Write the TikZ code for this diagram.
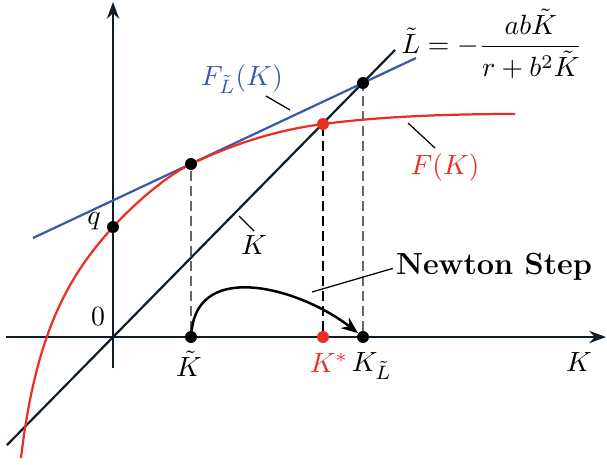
\documentclass[tikz,border=0pt]{standalone}
\usetikzlibrary{arrows.meta}
\definecolor{fred}{RGB}{236,45,35}
\definecolor{fblue}{RGB}{60,88,170}
\definecolor{axc}{RGB}{15,28,42}
\begin{document}
\begin{tikzpicture}[x=0.36pt,y=-0.36pt,
 dot/.style={circle,fill=black,inner sep=0pt,minimum size=4.2pt},
 rdot/.style={dot,fill=fred},
 leader/.style={draw=black,line width=0.45pt},
 axisline/.style={draw=axc,line width=0.9pt,-{Stealth[length=6pt,width=4.4pt]}},
 gdash/.style={draw=black!60,line width=0.45pt,dash pattern=on 3.6pt off 1.8pt},
 bdash/.style={draw=black,line width=1pt,dash pattern=on 3.6pt off 1.8pt},
 lbl/.style={inner sep=0pt}]
\useasboundingbox (0,0) rectangle (607,464);
% axes
\coordinate (xs) at (6,337); \coordinate (xe) at (606,337);
\coordinate (ys) at (113,368); \coordinate (ye) at (113,2);
\draw[axisline] (xs) -- (xe);
\draw[axisline] (ys) -- (ye);
% dots positions
\node[dot] (q) at (113,227) {};
\node[dot] (T1) at (191,164) {};
\node[rdot] (Fs) at (323,124) {};
\node[dot] (T2) at (363,83) {};
\node[dot] (Kt) at (191,337) {};
\node[rdot] (Ks) at (323,337) {};
\node[dot] (KL) at (363,337) {};
% dashed
\draw[gdash] (Kt) -- (T1);
\draw[bdash] (Ks) -- (Fs);
\draw[gdash] (KL) -- (T2);
% diagonal
\coordinate (d1) at (7,445); \coordinate (d2) at (395,50);
\draw[axc,line width=0.8pt] (d1) -- (d2);
% blue tangent
\coordinate (b1) at (33,238); \coordinate (b2) at (416,58);
\draw[fblue,line width=0.8pt] (b1) -- (b2);
% red curve
\draw[fred,line width=0.8pt] (21,458) .. controls (36,330) and (70,274.3) .. (113,227)
  .. controls (133,205) and (166,175.8) .. (191,164)
  .. controls (236,142.8) and (278,129.9) .. (323,124)
  .. controls (383,116.2) and (450,114) .. (515,114);
% redraw dots on top
\node[dot] at (q) {};
\node[dot] at (T1) {};
\node[rdot] at (Fs) {};
\node[dot] at (T2) {};
\node[dot] at (Kt) {};
\node[rdot] at (Ks) {};
\node[dot] at (KL) {};
% newton step arc
\draw[line width=0.9pt,-{Stealth[length=6pt,width=4.8pt]}] (Kt) to[out=84,in=142,looseness=1.1] (KL);
% labels
\node[lbl] (zero) at (98,317) {$0$};
\node[lbl] (ql) at (94,221) {$q$};
\node[lbl] (Ktl) at (189,364) {$\tilde K$};
\node[lbl,text=fred] (Ksl) at (329,363) {$K^*$};
\node[lbl] (KLl) at (372,366) {$K_{\tilde L}$};
\node[lbl] (Kax) at (579,362) {$K$};
\node[lbl] (Kd) at (254,245) {$K$};
\node[lbl,text=fblue] (FL) at (242,79) {$F_{\tilde L}(K)$};
\node[lbl,text=fred] (FK) at (445,168) {$F(K)$};
\node[lbl] (NS) at (494,267) {\fontsize{11}{13}\selectfont\bfseries Newton Step};
\node[lbl] (form) at (492,44) {$\displaystyle \tilde L = -\frac{ab\tilde K}{r+b^2\tilde K}$};
% leaders
\coordinate (lk1) at (239,216); \coordinate (lk2) at (254,231);
\draw[leader] (lk1) -- (lk2);
\coordinate (lf1) at (266,96); \coordinate (lf2) at (290,110);
\draw[leader] (lf1) -- (lf2);
\coordinate (lr1) at (408,123); \coordinate (lr2) at (435,148);
\draw[leader] (lr1) -- (lr2);
\coordinate (ln2) at (312,292);
\draw[leader] ([xshift=-1pt,yshift=-0.5pt]NS.west) -- (ln2);
\end{tikzpicture}
\end{document}
